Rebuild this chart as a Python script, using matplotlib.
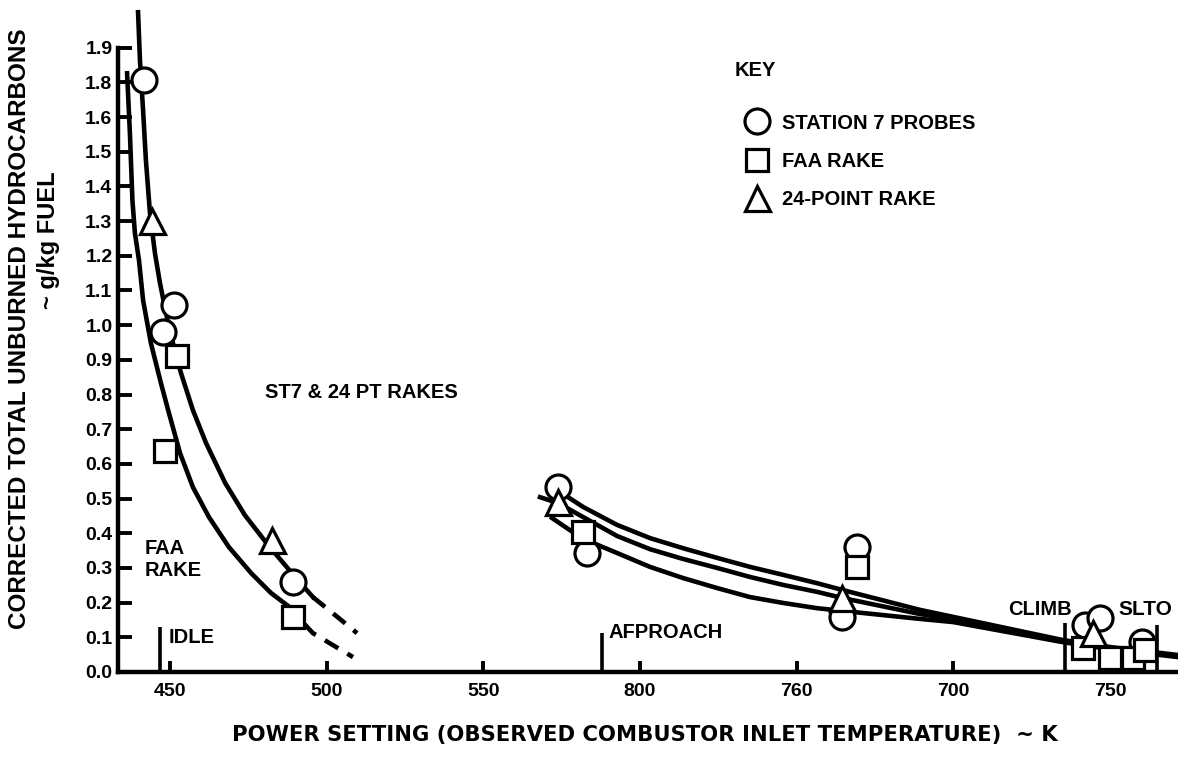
import matplotlib.pyplot as plt

# Measured points (x in K, y in g/kg fuel)
st7_x = [441.7, 451.3, 447.8, 489.3, 573.8, 583.1, 669.3, 664.5, 742.1, 746.8, 760.2]
st7_y = [1.706, 1.058, 0.980, 0.259, 0.533, 0.343, 0.360, 0.159, 0.135, 0.156, 0.086]

faa_x = [452.2, 448.4, 489.3, 581.8, 669.3, 741.4, 750.0, 757.4, 761.2]
faa_y = [0.911, 0.637, 0.159, 0.403, 0.303, 0.069, 0.040, 0.040, 0.063]

pt24_x = [444.3, 482.6, 573.8, 664.5, 744.6]
pt24_y = [1.300, 0.380, 0.490, 0.213, 0.112]

# Faired curves, low power end
st7_fit_x = [439.8, 440.4, 441.4, 442.3, 443.6, 445.2, 446.8, 449.0, 451.9, 453.5,
             457.3, 461.5, 467.6, 473.9, 481.3, 488.9, 495.6]
st7_fit_y = [1.902, 1.764, 1.620, 1.476, 1.323, 1.207, 1.121, 1.023, 0.911, 0.862,
             0.755, 0.660, 0.545, 0.452, 0.366, 0.285, 0.216]
st7_ext_x = [495.6, 502.7, 509.7]
st7_ext_y = [0.216, 0.164, 0.112]

faa_fit_x = [436.3, 437.2, 438.0, 438.8, 440.1, 441.4, 443.9, 447.1, 449.4, 453.2,
             457.3, 462.4, 468.8, 475.9, 482.2, 487.3]
faa_fit_y = [1.726, 1.553, 1.360, 1.265, 1.187, 1.072, 0.948, 0.833, 0.755, 0.631,
             0.533, 0.447, 0.360, 0.285, 0.228, 0.193]
faa_ext_x = [487.3, 495.6, 508.4]
faa_ext_y = [0.193, 0.112, 0.043]

# Faired curves, approach to takeoff
hi_x = [574.5, 581.8, 592.7, 603.2, 613.7, 624.6, 635.1, 645.7, 656.5, 664.8,
        689.4, 699.9, 735.0, 750.0, 771.7]
hi_y = [0.519, 0.476, 0.424, 0.386, 0.357, 0.329, 0.303, 0.280, 0.256, 0.236,
        0.179, 0.159, 0.092, 0.072, 0.049]
mid_x = [568.1, 573.8, 581.8, 592.7, 603.2, 613.7, 624.6, 635.1, 645.7, 656.5,
         664.8, 689.4, 699.9, 735.0, 750.0, 771.7]
mid_y = [0.504, 0.487, 0.447, 0.392, 0.354, 0.326, 0.300, 0.274, 0.251, 0.231,
         0.213, 0.167, 0.153, 0.089, 0.069, 0.046]
lo_x = [571.9, 578.6, 585.0, 592.7, 603.2, 613.7, 624.6, 635.1, 645.7, 656.5,
        664.8, 689.4, 699.9, 735.0, 750.0, 771.7]
lo_y = [0.444, 0.403, 0.372, 0.343, 0.303, 0.271, 0.242, 0.216, 0.199, 0.184,
        0.176, 0.153, 0.144, 0.086, 0.066, 0.043]

# Operating points along the x axis
modes = ['IDLE', 'AFPROACH', 'CLIMB', 'SLTO']
mode_x = [446.8, 587.8, 735.7, 765.0]
mode_top = [0.130, 0.112, 0.141, 0.135]

x_ticks = [450, 500, 550, 600, 650, 700, 750]
x_labels = ['450', '500', '550', '800', '760', '700', '750']
y_ticks = [i / 10 for i in range(19)]
y_labels = ['0.0', '0.1', '0.2', '0.3', '0.4', '0.5', '0.6', '0.7', '0.8', '0.9',
            '1.0', '1.1', '1.2', '1.3', '1.4', '1.5', '1.6', '1.8', '1.9']

plt.rcParams['font.family'] = ['Liberation Sans', 'DejaVu Sans']
plt.rcParams['font.weight'] = 'bold'

fig = plt.figure(figsize=(11.78, 7.61), dpi=100)
ax = fig.add_axes([118 / 1178, 89 / 761, 1060 / 1178, 666 / 761])
ax.set_xlim(433.4, 771.7)
ax.set_ylim(0, 1.92)

lw = 3.3
dash = (0, (3.4, 2.3))
ax.plot(st7_fit_x, st7_fit_y, color='black', lw=lw, clip_on=False)
ax.plot(st7_ext_x, st7_ext_y, color='black', lw=lw, ls=dash)
ax.plot(faa_fit_x, faa_fit_y, color='black', lw=lw)
ax.plot(faa_ext_x, faa_ext_y, color='black', lw=lw, ls=dash)
for cx, cy in [(hi_x, hi_y), (mid_x, mid_y), (lo_x, lo_y)]:
    ax.plot(cx, cy, color='black', lw=lw, clip_on=False)

mk = dict(ls='none', mfc='white', mec='black', mew=2.3, zorder=5, clip_on=False)
ax.plot(st7_x, st7_y, marker='o', ms=18, label='STATION 7 PROBES', **mk)
ax.plot(faa_x, faa_y, marker='s', ms=16, label='FAA RAKE', **mk)
ax.plot(pt24_x, pt24_y, marker='^', ms=18, label='24-POINT RAKE', **mk)

ax.vlines(mode_x, 0, mode_top, color='black', lw=2.6)
fs = 14.5
ax.text(449.4, 0.10, modes[0], fontsize=fs, va='center')
ax.text(589.8, 0.115, modes[1], fontsize=fs, va='center')
ax.text(717.5, 0.179, modes[2], fontsize=fs, va='center')
ax.text(752.6, 0.179, modes[3], fontsize=fs + 0.5, va='center')

ax.text(442.0, 0.323, 'FAA\nRAKE', fontsize=fs, va='center', linespacing=1.2)
ax.text(480.3, 0.807, 'ST7 & 24 PT RAKES', fontsize=fs, va='center')

ax.text(630.3, 1.735, 'KEY', fontsize=fs, va='center')
ax.legend(loc='upper left', bbox_to_anchor=(634.2, 1.610), bbox_transform=ax.transData,
          frameon=False, fontsize=fs, handlelength=1.0, handletextpad=0.75,
          labelspacing=0.95, borderaxespad=0, borderpad=0)

# Axis frame
for side in ['top', 'right']:
    ax.spines[side].set_visible(False)
ax.spines['left'].set_bounds(0, 1.8)
ax.spines['left'].set_linewidth(3.2)
ax.spines['bottom'].set_linewidth(3.2)

ax.set_xticks(x_ticks)
ax.set_xticklabels(x_labels)
ax.set_yticks(y_ticks)
ax.set_yticklabels(y_labels)
ax.tick_params(axis='y', direction='in', length=10, width=2.8, labelsize=14, pad=4)
ax.tick_params(axis='x', direction='in', length=8, width=2.8, labelsize=14, pad=8)

fig.text(232 / 1178, 26 / 761, 'POWER SETTING (OBSERVED COMBUSTOR INLET TEMPERATURE)  ~ K',
         fontsize=15.2, family=['Liberation Sans Narrow', 'DejaVu Sans'], va='center')
fig.text(20 / 1178, 1 - 329 / 761, 'CORRECTED TOTAL UNBURNED HYDROCARBONS',
         fontsize=17.5, rotation=90, ha='center', va='center')
fig.text(48 / 1178, 1 - 240 / 761, '~ g/kg FUEL',
         fontsize=17, rotation=90, ha='center', va='center')

fig.savefig('out.png', dpi=100)
